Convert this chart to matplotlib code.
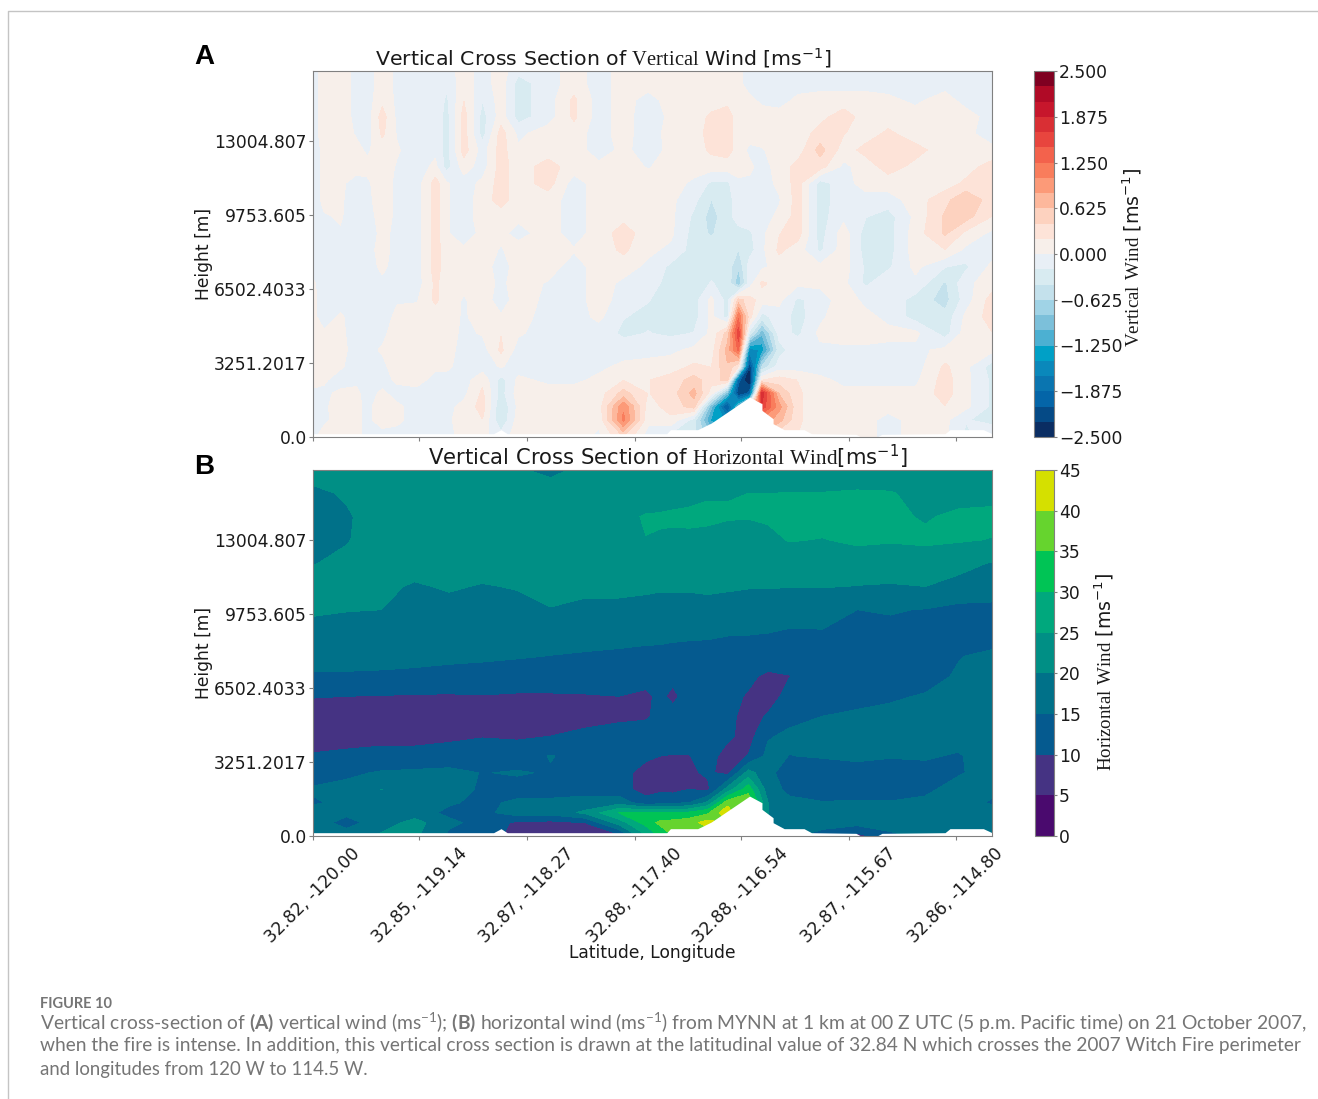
import numpy as np
import matplotlib
matplotlib.use('Agg')
import matplotlib.pyplot as plt
from matplotlib.lines import Line2D

plt.rcParams['mathtext.fontset'] = 'custom'
plt.rcParams['mathtext.rm'] = 'Liberation Serif'
plt.rcParams['mathtext.bf'] = 'Lato:bold'
plt.rcParams['mathtext.default'] = 'regular'

# tick labels
tick_lon = [-120.00, -119.14, -118.27, -117.40, -116.54, -115.67, -114.80]
tick_lat = [32.82, 32.85, 32.87, 32.88, 32.88, 32.87, 32.86]
tick_h = [0.0, 3251.2017, 6502.4033, 9753.605, 13004.807]
tick_h_labels = ['0.0', '3251.2017', '6502.4033', '9753.605', '13004.807']
lon_min, lon_max = -120.0, -114.51
h_top = 16080

# terrain along the section
terrain_lon = [-120.0, -118.54, -118.48, -118.43, -117.14, -117.11, -116.89, -116.78, -116.47, -116.37, -116.37,
               -116.28, -116.28, -116.19, -116.03, -115.97, -115.61, -115.57, -115.44, -115.40, -114.89, -114.85,
               -114.58, -114.51]
terrain_h = [146, 146, 322, 146, 146, 322, 322, 614, 1754, 1462, 1170, 804, 585, 322, 322, 146, 117, 0, 0, 117,
             146, 322, 322, 146]

# vertical wind
w_lon = [-120.0, -119.91, -119.78, -119.65, -119.56, -119.44, -119.32, -119.16, -119.01, -118.92, -118.78, -118.63,
         -118.48, -118.34, -118.10, -117.89, -117.69, -117.49, -117.29, -117.11, -116.92, -116.78, -116.65, -116.56,
         -116.47, -116.37, -116.23, -116.08, -115.90, -115.71, -115.53, -115.35, -115.13, -114.89, -114.72, -114.51]
w_h = [16080, 15538, 14806, 14074, 13342, 12609, 11877, 11145, 10412, 9680, 8948, 8216, 7484, 6751, 6019, 5287, 4555,
       3822, 3090, 2504, 1918, 1333, 747, 0]
# western part of the section
w_wind_west = [
    [-.1, .1, .1, -.05, -.1, .1, -.05, -.1, -.1, -.1, .1, -.1, .1, -.15, -.1, .1, -.1],
    [-.1, .1, .1, -.05, -.1, .1, -.05, -.1, -.1, -.15, .1, -.1, .1, -.3, -.1, .1, -.1],
    [-.1, .1, .1, -.05, -.1, .15, -.05, -.1, -.05, -.25, .2, -.2, .1, -.3, -.1, .25, -.1],
    [-.1, .1, .1, -.05, -.1, .3, -.05, -.1, -.05, -.3, .3, -.3, .1, -.3, -.1, .25, -.1],
    [-.1, .1, .1, -.02, -.1, .25, -.02, -.1, -.05, -.3, .3, -.3, .3, -.05, .1, .1, -.1],
    [-.1, .05, .1, .05, -.03, .1, .02, -.1, -.05, -.3, .3, -.1, .3, .03, .1, .1, -.1],
    [-.1, .05, .1, .1, .05, .1, -.02, -.1, .05, -.3, .1, -.1, .3, .1, .3, .1, .05],
    [-.1, .05, .05, -.1, -.03, .1, -.05, -.1, .3, .02, -.1, .05, .3, .1, .3, -.1, .1],
    [-.1, .05, .03, -.1, -.05, .1, -.05, -.1, .3, .02, -.1, .1, .3, .1, .1, -.1, .1],
    [-.1, -.02, .02, -.1, -.1, .1, -.05, -.1, .3, .02, -.1, .1, .1, .05, .1, -.1, .1],
    [-.1, -.1, -.02, -.1, -.1, .05, -.05, -.1, .3, .02, -.1, .05, .05, -.08, .1, -.1, .1],
    [-.1, -.1, -.1, -.1, -.1, .1, -.1, -.1, .3, .1, .03, .1, -.02, .1, .1, .02, .1],
    [-.1, -.1, -.1, -.1, -.1, .05, -.1, -.1, .3, .1, .05, .1, -.1, .1, .1, -.1, .1],
    [.03, -.1, -.1, -.1, -.1, -.05, -.1, -.1, .25, .1, .05, .1, -.05, .1, -.02, -.1, .1],
    [.05, -.1, -.1, -.1, -.1, -.05, -.02, -.02, .25, .1, -.02, .1, -.1, .1, -.05, -.1, .1],
    [.05, -.1, .03, -.1, -.1, -.1, .05, .1, .1, .1, -.03, .1, .02, .1, -.1, -.1, .05],
    [.05, .03, .05, -.1, -.02, -.05, .1, .1, .05, .1, -.05, .02, .2, .03, -.1, -.1, -.1],
    [.1, .02, .08, -.1, -.05, .02, .1, .1, .05, .1, -.1, -.1, .25, -.1, -.1, -.1, -.1],
    [.1, .08, .03, -.1, -.1, -.05, .1, .1, .05, .05, -.1, -.1, .02, -.1, -.1, -.1, -.05],
    [.08, .03, -.1, -.05, -.1, -.1, .05, .1, -.1, -.1, -.1, .15, -.3, .05, -.05, -.05, .05],
    [-.05, -.05, .05, .05, -.1, .05, -.1, -.1, -.1, -.1, -.05, .25, -.3, .1, .1, .1, .1],
    [-.1, -.02, .05, .05, -.05, .1, .05, -.1, -.1, -.05, .05, .3, -.4, .05, .1, .1, .1],
    [-.1, -.05, .1, .05, -.05, .1, .05, -.1, -.1, -.05, .1, .2, -.4, .1, .1, .1, .05],
    [-.05, .1, .1, .05, -.05, -.1, -.1, -.1, -.1, -.05, .05, .05, -.1, .1, .1, .1, -.05],
]
# eastern part, with the dipole over the ridge
w_wind_east = [
    [.1, .1, .1, .1, .1, .1, .05, -.1, -.1, -.1, -.1, -.1, -.1, -.1, -.1, -.1, -.1, -.1, -.1],
    [.1, .1, .1, .1, .1, .1, .05, -.1, -.1, -.1, -.1, -.1, -.1, -.1, -.1, -.1, -.1, -.1, -.1],
    [.1, -.1, .1, .1, .1, .15, .05, .05, -.05, -.1, .05, .1, .1, .1, .05, -.05, .1, -.1, -.1],
    [.1, -.15, .05, .1, .25, .3, .1, .1, .1, .1, .1, .15, .3, .12, .1, .1, .1, .1, -.1],
    [.1, -.15, .1, .1, .3, .3, .1, .1, .1, .1, .1, .28, .22, .1, .25, .1, .1, .05, -.1],
    [.05, -.1, .05, .1, .25, .3, .1, -.05, -.02, .1, .1, .5, .1, .28, .35, .28, .1, .05, .05],
    [.1, -.02, .1, .1, .1, .1, .1, .05, -.1, .1, .28, .3, -.05, .1, .3, .15, .1, .12, .3],
    [.1, .1, .1, -.05, -.25, -.25, -.05, -.05, -.1, .05, .3, -.3, -.1, .1, .1, .1, .1, .25, .4],
    [.1, .1, .05, -.15, -.42, -.3, -.1, -.1, -.1, -.02, .3, -.3, -.1, -.1, -.1, .1, .35, .6, .3],
    [.15, .1, .05, -.25, -.5, -.3, -.1, -.05, -.1, .05, .3, -.3, -.05, -.2, -.3, .05, .45, .5, .2],
    [.3, .1, .05, -.3, -.45, -.25, -.3, -.25, -.05, .2, .3, -.3, .1, -.3, -.3, .1, .45, .15, -.05],
    [.25, .05, -.05, -.3, -.3, -.3, -.42, -.3, -.05, .25, .1, -.25, .1, -.3, -.3, .1, .2, -.05, -.1],
    [.1, -.05, -.25, -.3, -.25, -.3, -.6, -.1, -.05, .1, .05, .05, .1, -.25, -.25, .05, -.2, -.25, .05],
    [-.05, -.1, -.3, -.3, -.2, -.25, -.8, -.1, .25, .1, .05, .05, .05, -.25, -.05, -.05, -.45, -.05, .1],
    [-.1, -.2, -.3, -.3, .05, -.3, .5, .3, .1, .05, -.25, -.1, .1, -.05, -.05, -.3, -.5, -.1, .3],
    [-.2, -.25, -.3, -.3, .05, -.3, 1.2, .3, -.3, -.08, -.3, -.05, .15, .05, -.05, -.3, -.35, .05, .3],
    [-.25, -.2, -.25, -.2, .05, .5, 1.6, -.3, -1.0, -.12, -.25, .05, .1, .1, .05, .05, -.3, .1, .2],
    [-.1, -.1, -.05, .05, .1, .7, 1.3, -1.6, -1.4, -.3, -.05, -.05, -.05, -.05, -.05, -.05, .05, .05, .05],
    [.05, .1, .1, .25, .2, .6, .2, -2.3, -.6, -.1, -.1, -.1, -.05, -.1, -.1, -.1, .25, .05, -.3],
    [.2, .2, .3, .5, .3, .5, -2.0, -2.6, .2, .3, .2, .05, -.05, -.05, -.05, -.05, .3, .05, -.25],
    [.5, .2, .3, .7, .1, -1.0, -2.3, -2.0, 1.8, .6, .25, .05, .05, .05, .05, .05, .3, .05, -.25],
    [1.0, .1, .3, .5, -1.0, -2.2, -1.0, .2, 1.6, .9, .25, .05, .05, .05, .05, .05, .2, .05, -.25],
    [1.1, .05, .15, -.3, -1.3, -1.5, -.5, .2, 1.0, .7, .25, .05, .05, .05, -.05, .05, .05, -.2, -.25],
    [.4, -.1, -.3, -.4, -.8, -.8, -.3, .1, .5, .2, .2, .05, .05, .05, -.05, .05, .05, -.25, -.1],
]

# horizontal wind
u_lon = [-120.0, -119.73, -119.45, -119.18, -118.90, -118.63, -118.35, -118.08, -117.80, -117.53, -117.31, -117.20,
         -117.09, -116.96, -116.81, -116.65, -116.48, -116.32, -116.15, -115.88, -115.60, -115.33, -115.05, -114.78,
         -114.51]
u_h = [16080, 15057, 14034, 13011, 11988, 10965, 9942, 8919, 7895, 7018, 6140, 5263, 4386, 3509, 2778, 2047, 1462,
       1023, 585, 0]
u_wind = [
    [22, 22, 22, 22, 22, 22, 20.5, 19, 21, 22, 22, 22, 22, 22, 22, 22, 22, 22, 21, 20.5, 22, 22, 22, 22, 22],
    [19, 20.5, 22, 22, 22, 22, 22, 22, 22, 22, 22, 22, 23, 23.5, 24.5, 24.7, 25, 25, 25.1, 25.2, 25.5, 25.3, 23.5, 23, 23],
    [18, 19.5, 22, 22, 22, 22, 22, 22, 22, 23.5, 25.4, 25.6, 25.8, 26, 26, 25.5, 25.3, 25.8, 27, 27, 27, 26, 24.5, 26, 26.5],
    [18, 19.7, 22, 22, 22, 22, 22, 22, 22, 22, 24.9, 24.5, 24, 24, 23.5, 22.5, 22.5, 23.5, 25.3, 24.8, 26, 25.5, 26, 25.5, 24.8],
    [19.8, 21, 22, 22, 22, 22, 22, 22, 22, 22, 22, 22, 22, 22, 22, 22, 22, 22, 22, 22, 22, 22, 22, 21, 19.8],
    [21.5, 21, 21, 19.5, 20.5, 19.7, 20.3, 21.5, 21, 21, 20.7, 20.5, 20.5, 20.5, 20.8, 20.6, 20.3, 20.2, 20.2, 20.2, 19.9, 19.7, 20, 19, 18],
    [20.8, 20.2, 20, 18.5, 18.5, 18, 18.5, 19.8, 19, 19, 18.7, 18.5, 18.5, 18.5, 18.5, 18, 17.5, 17.5, 17, 16.5, 15, 15.3, 14.8, 13.5, 13.5],
    [18, 18, 18, 18, 18, 18, 17.5, 17, 17, 17, 16.6, 16.5, 16.2, 16, 15.8, 15.3, 15.2, 15, 14.5, 14.7, 13.5, 14, 13, 12.5, 12.5],
    [16.5, 16.5, 16.5, 16.3, 16, 15.8, 15.3, 14.9, 14.5, 14, 13.6, 13.5, 13.2, 13, 13, 13, 13, 13, 13, 13, 13, 13, 13.5, 14.8, 16],
    [14.5, 14.5, 14.3, 14, 13.5, 13, 13, 13, 13, 13, 12, 11.5, 11, 11.5, 12, 12, 11, 9, 9.8, 12.5, 13, 13.3, 13.5, 15.5, 17],
    [10.2, 10, 9.8, 9.6, 9.5, 9.8, 9.4, 9.4, 9.6, 10, 9, 11, 9, 12, 12, 11.5, 9.5, 8, 11.5, 13.5, 14, 14.5, 15.3, 16, 16.5],
    [8, 8, 8, 8, 8, 8, 8, 8, 8.5, 9, 9.5, 11, 11.5, 12, 12, 11.5, 8, 10.5, 13.5, 15, 15.5, 16, 16.5, 17, 17],
    [8.5, 8.5, 9, 9, 9.3, 9.8, 9.5, 10, 11, 12, 12, 12, 12, 12, 11.5, 11, 8, 14.5, 16, 17, 17, 17, 17, 17, 18],
    [10.3, 10.8, 11, 11, 11.5, 12, 12, 15.3, 13, 12, 11, 10, 9.8, 9.8, 12, 8, 10.2, 16.5, 14.9, 15.3, 15.5, 15.3, 15.5, 14.5, 18],
    [13, 14, 15.5, 16, 16.5, 14.8, 15.5, 14.5, 12.5, 12, 8, 8, 8, 9, 10.8, 8.5, 22, 16, 13, 13, 14, 13, 13.5, 14.5, 17],
    [15.5, 16.5, 20.1, 17.5, 16.5, 14.5, 13, 13, 13, 12, 8, 9, 8.5, 10, 8.5, 22, 33, 17, 14, 13, 13, 13, 14, 17, 16],
    [14.5, 16, 16.5, 17, 15.5, 14, 15.8, 16, 17, 18, 12, 13, 14, 15, 21, 38, 39, 20, 16, 15.2, 15.5, 15.3, 16, 17, 14.5],
    [17, 16, 17, 17, 14, 13.5, 17.5, 17, 21, 30, 31, 30, 30, 31, 34, 44, 30, 20, 17, 17, 17, 17, 17, 17, 17],
    [17, 13.5, 17, 22, 16, 13.5, 9, 8.5, 10, 22, 32, 36, 37, 38, 42, 40, 30, 20, 18, 17, 17, 17, 17, 17, 17],
    [17, 17, 21, 21, 14, 13, 8, 6, 4, 8, 24, 30, 35, 36, 35, 30, 25, 20, 16, 13, 8, 14, 16, 17, 15],
]

w_levels = [-2.5 + i * 5 / 24 for i in range(25)]
w_ticks = [-2.5, -1.875, -1.25, -0.625, 0, 0.625, 1.25, 1.875, 2.5]
w_tick_labels = ['\u22122.500', '\u22121.875', '\u22121.250', '\u22120.625', '0.000', '0.625', '1.250', '1.875', '2.500']
w_colors = ['#0a2d62', '#054a86', '#0465a8', '#0a75b0', '#0a88bb', '#00a0c6', '#4cb0d2', '#7cc0da', '#a0d3e6',
            '#c4e1ec', '#d8ebf1', '#e8eff6', '#f7efea', '#fde3d8', '#fdd2bf', '#fdb89c', '#fc9a78', '#f97d5c',
            '#f3624c', '#e8453e', '#d92f34', '#c7162c', '#b00a26', '#7f0021']
u_levels = [0, 5, 10, 15, 20, 25, 30, 35, 40, 45]
u_colors = ['#4a0a6e', '#453383', '#055a8f', '#007189', '#008f85', '#00a87d', '#00c455', '#66d42e', '#d5e000']

W, H = 1318, 1099
fig = plt.figure(figsize=(W / 100, H / 100), dpi=100)
text_color = '#1a1a1a'
frame_color = '#808080'


def box(x0, y0, x1, y1):
    return [x0 / W, 1 - y1 / H, (x1 - x0) / W, (y1 - y0) / H]


ax_a = fig.add_axes(box(313, 71, 992, 437))
ax_b = fig.add_axes(box(313, 470, 992, 836))
cax_a = fig.add_axes(box(1034, 71, 1054, 437))
cax_b = fig.add_axes(box(1035, 470, 1054, 836))

cf_a = ax_a.contourf(w_lon, w_h, np.hstack([w_wind_west, w_wind_east]), levels=w_levels, colors=w_colors)
cf_b = ax_b.contourf(u_lon, u_h, np.array(u_wind), levels=u_levels, colors=u_colors)

for ax in (ax_a, ax_b):
    ax.fill_between(terrain_lon, 0, terrain_h, color='white', lw=0, zorder=3)
    ax.set_xlim(lon_min, lon_max)
    ax.set_ylim(0, h_top)
    ax.set_xticks(tick_lon)
    ax.set_yticks(tick_h)
    ax.set_yticklabels(tick_h_labels)
    ax.tick_params(labelsize=12.3, colors=text_color, length=3, color=frame_color, pad=1.5)
    for s in ax.spines.values():
        s.set_color(frame_color)
        s.set_zorder(5)
    ax.set_ylabel('Height [m]', fontsize=12.3, color=text_color)
    ax.yaxis.set_label_coords((213 - 313) / 679, 0.5)

ax_a.set_xticklabels([])
ax_b.set_xticklabels([f'{a:.2f}, {o:.2f}' for a, o in zip(tick_lat, tick_lon)], rotation=45, ha='center')
ax_b.tick_params(axis='x', pad=3)
ax_b.set_xlabel('Latitude, Longitude', fontsize=12.3, color=text_color)
ax_b.xaxis.set_label_coords(0.5, (836 - 953) / 366)
ax_b.xaxis.label.set_verticalalignment('center')

cb_a = fig.colorbar(cf_a, cax=cax_a)
cb_a.set_ticks(w_ticks)
cb_a.set_ticklabels(w_tick_labels)
cb_b = fig.colorbar(cf_b, cax=cax_b)
cb_b.set_ticks(u_levels)
for cb in (cb_a, cb_b):
    cb.ax.tick_params(labelsize=12.3, colors=text_color, length=2, color=frame_color, pad=1.5)
    cb.outline.set_edgecolor(frame_color)


def put(px, py, s, **kw):
    return fig.text(px / W, 1 - py / H, s, **kw)


put(603, 58, r'Vertical Cross Section of $\mathrm{Vertical}$ Wind [ms$^{-1}$]', fontsize=14.75, ha='center',
    va='center', color=text_color)
put(668, 457, r'Vertical Cross Section of $\mathrm{Horizontal\ Wind}$[ms$^{-1}$]', fontsize=15.2, ha='center',
    va='center', color=text_color)
put(204, 57, 'A', fontsize=20, fontweight='bold', family='Liberation Sans', ha='center', va='center')
put(204, 467, 'B', fontsize=20, fontweight='bold', family='Liberation Sans', ha='center', va='center')
put(1132, 257, r'$\mathrm{Vertical\ Wind}$ [ms$^{-1}$]', fontsize=13.7, rotation=90, ha='center', va='center',
    color=text_color)
put(1104, 672, r'$\mathrm{Horizontal\ Wind}$ [ms$^{-1}$]', fontsize=13.6, rotation=90, ha='center', va='center',
    color=text_color)

# caption
cap = '#757575'
put(40, 1004, 'FIGURE 10', fontsize=10.5, family='Lato', fontweight='bold', color=cap, va='center')
put(40, 1022, r'Vertical cross-section of $\mathbf{(A)}$ vertical wind (ms$^{-1}$); $\mathbf{(B)}$ horizontal wind '
    r'(ms$^{-1}$) from MYNN at 1 km at 00 Z UTC (5 p.m. Pacific time) on 21 October 2007,',
    fontsize=13.88, family='Lato', color=cap, va='center')
put(40, 1046, 'when the fire is intense. In addition, this vertical cross section is drawn at the latitudinal value '
    'of 32.84 N which crosses the 2007 Witch Fire perimeter', fontsize=13.8, family='Lato', color=cap, va='center')
put(40, 1070, 'and longitudes from 120 W to 114.5 W.', fontsize=13.4, family='Lato', color=cap, va='center')

# page border
fig.add_artist(Line2D([8 / W, 8 / W, 1], [0, 1 - 11 / H, 1 - 11 / H], color='#c4c4c4', lw=1))

fig.savefig('out.png', dpi=100)
